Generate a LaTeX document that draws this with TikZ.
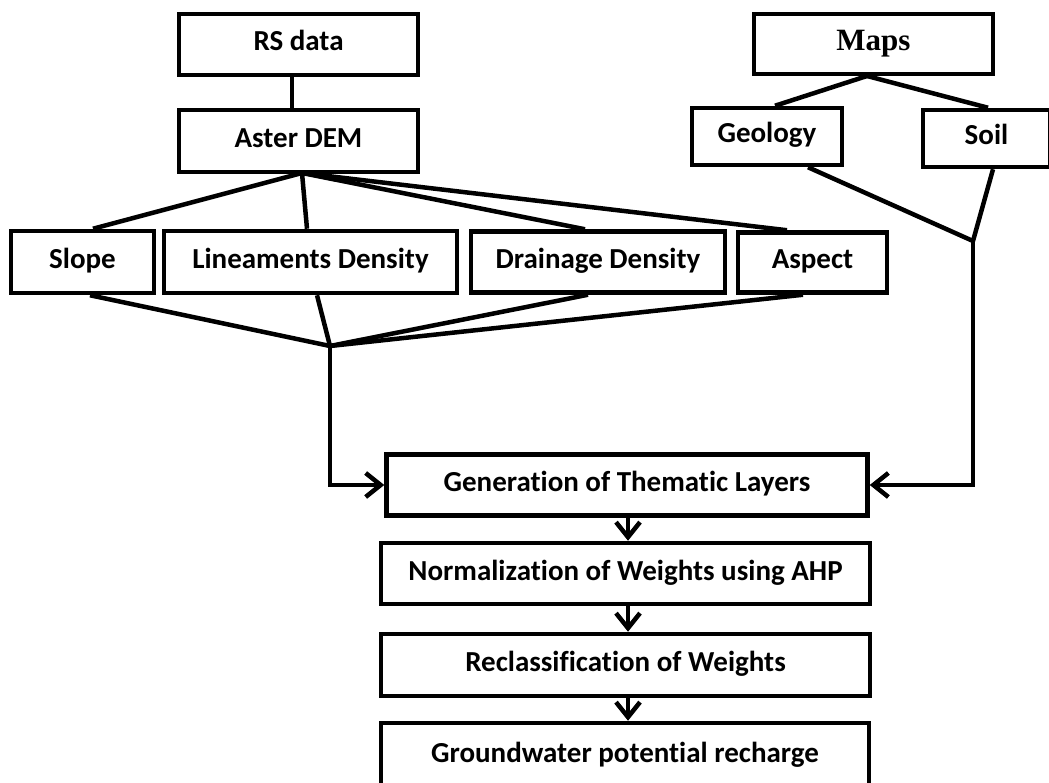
\documentclass[tikz,border=0pt]{standalone}
\usepackage{fontspec}
\setmainfont{Carlito}[Ligatures=NoCommon]
\newfontfamily\timesfont{Liberation Serif}
\usetikzlibrary{arrows.meta}
\begin{document}
\begin{tikzpicture}[x=1pt,y=-1pt,
  box/.style={draw=black,line width=4.5pt,rectangle,inner sep=0pt,
    font=\fontsize{29}{32}\selectfont\bfseries,text height=20pt,text depth=7pt},
  conn/.style={draw=black,line width=4.5pt,line join=miter},
  arr/.style={conn,-{Straight Barb[length=15pt,width=24pt,line width=4.5pt]}}]
\path[use as bounding box] (0,0) rectangle (1049,783);
\clip (0,0) rectangle (1049,783);
% top-left
\node[box,minimum width=239pt,minimum height=61pt] (rs) at (298.5,44.5) {RS data};
\node[box,minimum width=239pt,minimum height=62pt] (aster) at (298.5,141) {Aster DEM};
% top-right
\node[box,minimum width=239pt,minimum height=60pt,font=\timesfont\fontsize{31}{33}\selectfont\bfseries] (maps) at (873.5,44) {Maps};
\node[box,minimum width=150pt,minimum height=57pt] (geo) at (767,136.5) {Geology};
\node[box,minimum width=127pt,minimum height=57pt] (soil) at (986.5,138.5) {Soil};
% row of factors
\node[box,minimum width=143pt,minimum height=62pt] (slope) at (82.5,262) {Slope};
\node[box,minimum width=293pt,minimum height=62pt] (lin) at (310.5,262) {Lineaments Density};
\node[box,minimum width=254pt,minimum height=61pt] (drain) at (598,262) {Drainage Density};
\node[box,minimum width=149pt,minimum height=60pt] (asp) at (812.5,262.5) {Aspect};
% process column
\node[box,minimum width=481pt,minimum height=61pt] (gen) at (627,485) {Generation of Thematic Layers};
\node[box,minimum width=489pt,minimum height=61pt] (norm) at (625.5,573.5) {Normalization of Weights using AHP};
\node[box,minimum width=489pt,minimum height=62pt] (recl) at (625.5,665) {Reclassification of Weights};
\node[box,minimum width=488pt,minimum height=66pt] (gw) at (625,756) {Groundwater potential recharge};
% junctions
\coordinate (ja) at (302,173);
\coordinate (j1) at (330,346);
\coordinate (j2) at (973,241);
\coordinate (mj) at (867,76);
% RS -> Aster
\draw[conn] (rs.south -| 292,0) -- (aster.north -| 292,0);
% Aster fan-out
\draw[conn] (ja) -- (slope.north -| 93,0);
\draw[conn] (ja) -- (lin.north -| 307,0);
\draw[conn] (ja) -- (drain.north -| 585,0);
\draw[conn] (ja) -- (asp.north -| 787,0);
% factors fan-in
\draw[conn] (slope.south -| 90,0) -- (j1);
\draw[conn] (lin.south -| 317,0) -- (j1);
\draw[conn] (drain.south -| 588,0) -- (j1);
\draw[conn] (asp.south -| 803,0) -- (j1);
\draw[arr] (j1) |- (gen.west);
% Maps
\draw[conn] (mj) -- (geo.north -| 775,0);
\draw[conn] (mj) -- (soil.north -| 988,0);
\draw[conn] (geo.south -| 808,0) -- (j2);
\draw[conn] (soil.south -| 993,0) -- (j2);
\draw[arr] (j2) |- (gen.east);
% process arrows
\draw[arr] (gen.south -| 628,0) -- (norm.north -| 628,0);
\draw[arr] (norm.south -| 628,0) -- (recl.north -| 628,0);
\draw[arr] (recl.south -| 628,0) -- (gw.north -| 628,0);
\end{tikzpicture}
\end{document}
